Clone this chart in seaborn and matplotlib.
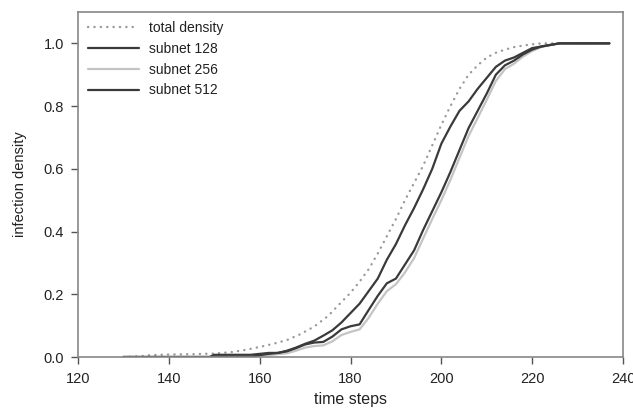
import matplotlib
matplotlib.use("Agg")
import matplotlib.pyplot as plt
import seaborn as sns
import pandas as pd

# ---- data ----
total_x = [130, 134, 136, 140, 145, 150, 154, 157, 160, 163, 166, 169, 172, 175, 178,
           180, 182, 184, 186, 188, 190, 192, 194, 196, 198, 200, 202, 204, 206, 208,
           210, 212, 214, 216, 218, 220, 222, 226, 237]
total_y = [0.0, 0.003, 0.006, 0.008, 0.009, 0.011, 0.016, 0.023, 0.032, 0.042, 0.054, 0.073,
           0.097, 0.13, 0.175, 0.205, 0.24, 0.28, 0.33, 0.385, 0.44, 0.50, 0.555, 0.61,
           0.675, 0.74, 0.80, 0.855, 0.90, 0.93, 0.955, 0.97, 0.98, 0.988, 0.993, 0.997,
           1.0, 1.0, 1.0]

sub_x = [130, 149, 150, 155, 158, 160, 162, 164, 166, 168, 170, 172, 174, 176, 178, 180,
         182, 184, 186, 188, 190, 192, 194, 196, 198, 200, 202, 204, 206, 208, 210, 212,
         214, 216, 218, 220, 222, 224, 226, 237]
sub128_y = [0.0, 0.0, 0.007, 0.007, 0.007, 0.01, 0.013, 0.013, 0.02, 0.03, 0.042, 0.052,
            0.068, 0.085, 0.11, 0.14, 0.17, 0.21, 0.25, 0.31, 0.36, 0.42, 0.475, 0.535,
            0.60, 0.68, 0.735, 0.785, 0.815, 0.855, 0.89, 0.925, 0.945, 0.955, 0.97,
            0.985, 0.99, 0.995, 1.0, 1.0]
sub256_y = [0.0, 0.0, 0.0, 0.0, 0.0, 0.003, 0.006, 0.009, 0.012, 0.02, 0.03, 0.035,
            0.037, 0.05, 0.07, 0.08, 0.088, 0.125, 0.17, 0.21, 0.232, 0.27, 0.315, 0.378,
            0.44, 0.5, 0.565, 0.635, 0.705, 0.762, 0.82, 0.88, 0.918, 0.935, 0.958,
            0.976, 0.988, 0.995, 1.0, 1.0]
sub512_y = [0.0, 0.0, 0.0, 0.0, 0.0, 0.006, 0.01, 0.013, 0.018, 0.028, 0.04, 0.046,
            0.048, 0.065, 0.088, 0.098, 0.104, 0.15, 0.195, 0.235, 0.25, 0.295, 0.34, 0.405,
            0.465, 0.525, 0.59, 0.66, 0.73, 0.785, 0.84, 0.90, 0.93, 0.945, 0.965,
            0.98, 0.99, 0.995, 1.0, 1.0]

labels = ["total density", "subnet 128", "subnet 256", "subnet 512"]
xticks = [120, 140, 160, 180, 200, 220, 240]
yticks = [0.0, 0.2, 0.4, 0.6, 0.8, 1.0]

sns.set_style("ticks")
plt.rcParams["font.family"] = ["Liberation Sans", "DejaVu Sans"]

fig = plt.figure(figsize=(6.33, 4.11), dpi=100)
ax = fig.add_axes([78 / 633, 1 - 357 / 411, 545 / 633, 345 / 411])

df_total = pd.DataFrame({"t": total_x, "d": total_y})
sns.lineplot(data=df_total, x="t", y="d", ax=ax, color="#9a9a9a", lw=1.7,
             linestyle=(0, (0.1, 2.6)), label=labels[0], dash_capstyle="round")
styles = [(sub256_y, "#c4c4c4", labels[2]),
          (sub128_y, "#3a3a3a", labels[1]),
          (sub512_y, "#3a3a3a", labels[3])]
for ys, col, lab in styles:
    d = pd.DataFrame({"t": sub_x, "d": ys})
    sns.lineplot(data=d, x="t", y="d", ax=ax, color=col, lw=1.6, label=lab)

ax.set_xlim(120, 240)
ax.set_ylim(0, 1.1)
ax.set_xticks(xticks)
ax.set_xticklabels([str(v) for v in xticks])
ax.set_yticks(yticks)
ax.set_yticklabels([f"{v:.1f}" for v in yticks])
ax.tick_params(axis="both", direction="out", length=5, width=1, color="#555555",
               labelsize=10.5, labelcolor="#222222")
ax.tick_params(axis="x", pad=6)
ax.tick_params(axis="y", pad=5)
for s in ax.spines.values():
    s.set_color("#888888")
    s.set_linewidth(1.2)
ax.set_xlabel("time steps", fontsize=11.5, color="#222222", labelpad=4)
ax.set_ylabel("infection density", fontsize=10.5, color="#222222", labelpad=12)

handles, labs = ax.get_legend_handles_labels()
order = [labs.index(l) for l in labels]
leg = ax.legend([handles[i] for i in order], [labs[i] for i in order],
                loc="upper left", bbox_to_anchor=(0.018, 0.975), frameon=False,
                borderpad=0, borderaxespad=0, handlelength=3.7, handletextpad=0.7,
                labelspacing=0.5, fontsize=10)
for t in leg.get_texts():
    t.set_color("#222222")

fig.savefig("out.png", dpi=100)
